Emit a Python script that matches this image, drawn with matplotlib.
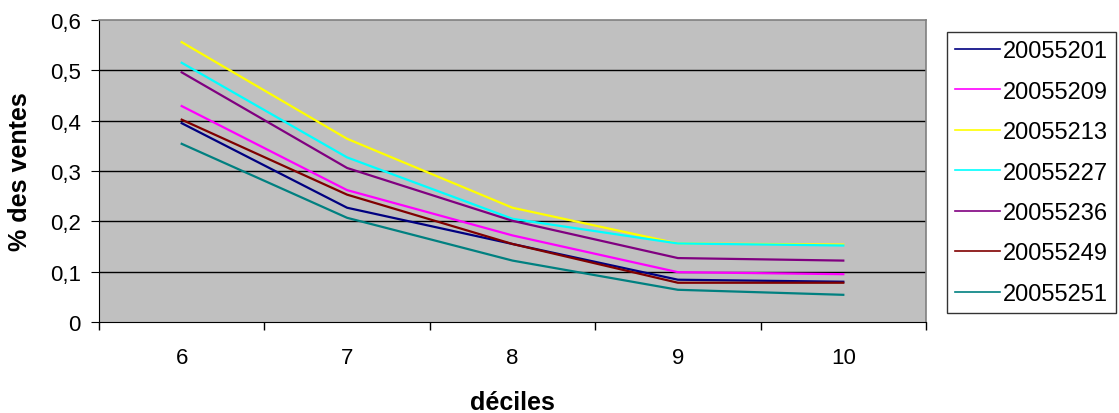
import numpy as np
import matplotlib.pyplot as plt
from matplotlib.ticker import FuncFormatter

plt.rcParams['font.family'] = ['Liberation Sans', 'DejaVu Sans']

# données
deciles = [6, 7, 8, 9, 10]
s20055201 = [0.395, 0.227, 0.155, 0.084, 0.080]
s20055209 = [0.429, 0.262, 0.172, 0.099, 0.095]
s20055213 = [0.556, 0.364, 0.227, 0.156, 0.154]
s20055227 = [0.515, 0.327, 0.205, 0.156, 0.152]
s20055236 = [0.496, 0.306, 0.201, 0.127, 0.122]
s20055249 = [0.402, 0.253, 0.155, 0.078, 0.078]
s20055251 = [0.354, 0.207, 0.122, 0.064, 0.054]

names = ["20055201", "20055209", "20055213", "20055227",
         "20055236", "20055249", "20055251"]
series = [s20055201, s20055209, s20055213, s20055227,
          s20055236, s20055249, s20055251]
colors = ["#000080", "#FF00FF", "#FFFF00", "#00FFFF",
          "#800080", "#800000", "#008080"]

fig = plt.figure(figsize=(11.19, 4.14), dpi=100)
ax = fig.add_axes([99/1119, 1 - 323/414, (926-99)/1119, (323-21)/414])
ax.set_facecolor("#C0C0C0")

xpos = np.arange(len(deciles))
for vals, name, c in zip(series, names, colors):
    ax.plot(xpos, vals, color=c, lw=1.6, label=name)

ax.set_xlim(-0.5, len(deciles) - 0.5)
ax.set_ylim(0, 0.6)
ax.set_yticks(np.arange(0, 0.61, 0.1))
ax.yaxis.set_major_formatter(FuncFormatter(
    lambda v, p: "0" if abs(v) < 1e-9 else ("%.1f" % v).replace(".", ",")))
for y in np.arange(0.1, 0.55, 0.1):
    ax.axhline(y, color="black", lw=1, zorder=0.5)

ax.set_xticks(xpos)
ax.set_xticklabels([str(d) for d in deciles])
ax.set_xticks(np.arange(-0.5, len(deciles)), minor=True)
ax.tick_params(axis="x", which="major", length=0, pad=18, labelsize=16)
ax.tick_params(axis="x", which="minor", length=6, direction="out", width=1)
ax.tick_params(axis="y", length=6, direction="out", labelsize=16, pad=7)

for side in ["top", "right"]:
    ax.spines[side].set_color("#808080")
    ax.spines[side].set_linewidth(1.2)
ax.spines["left"].set_color("black")
ax.spines["bottom"].set_color("black")

ax.set_xlabel("déciles", fontsize=18, fontweight="bold", labelpad=16)
ax.set_ylabel("% des ventes", fontsize=18, fontweight="bold", labelpad=13)

leg = fig.legend(loc="upper left", bbox_to_anchor=(947/1119, 1 - 33/414),
                 frameon=True, fontsize=17, fancybox=False,
                 handlelength=1.9, handletextpad=0.1, labelspacing=0.78,
                 borderpad=0.35, borderaxespad=0)
leg.get_frame().set_edgecolor("black")
leg.get_frame().set_linewidth(1)
for line in leg.get_lines():
    line.set_linewidth(1.2)

fig.savefig("out.png", dpi=100)
